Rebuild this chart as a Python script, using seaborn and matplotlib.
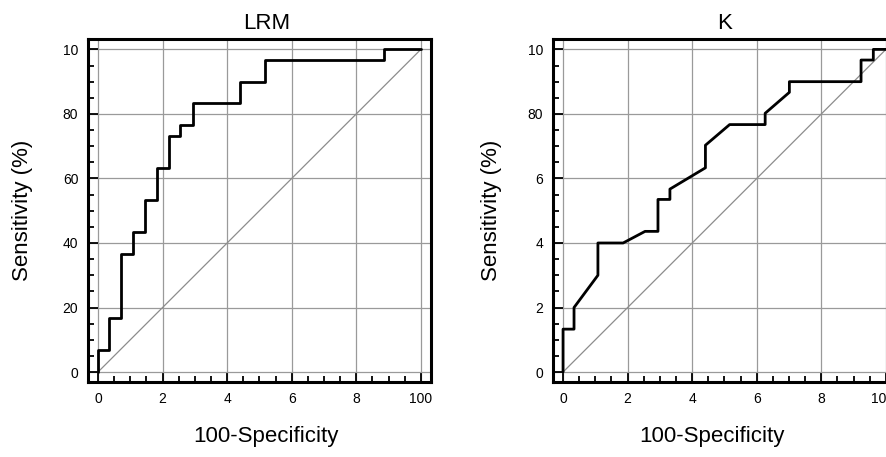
from matplotlib import pyplot as plt
from matplotlib.ticker import MultipleLocator
import pandas as pd
import seaborn as sns

# ROC curve vertices (100-specificity, sensitivity)
lrm_fpr = [0, 0, 3.3, 3.3, 7.2, 7.2, 10.9, 10.9, 14.7, 14.7, 18.3, 18.3, 21.9, 21.9,
           25.5, 25.5, 29.5, 29.5, 43.9, 43.9, 51.7, 51.7, 88.7, 88.7, 100]
lrm_tpr = [0, 6.7, 6.7, 16.7, 16.7, 36.7, 36.7, 43.3, 43.3, 53.3, 53.3, 63.3, 63.3, 73.3,
           73.3, 76.7, 76.7, 83.3, 83.3, 90.0, 90.0, 96.7, 96.7, 100, 100]

k_fpr = [0, 0, 3.4, 3.4, 10.8, 10.8, 18.6, 25.4, 29.4, 29.4, 33.1, 33.1, 44.1, 44.1,
         51.6, 62.6, 62.6, 70.1, 70.1, 92.3, 92.3, 96.1, 96.1, 100]
k_tpr = [0, 13.3, 13.3, 20.0, 30.0, 40.0, 40.0, 43.6, 43.6, 53.5, 53.5, 56.7, 63.3, 70.3,
         76.7, 76.7, 80.2, 86.7, 90.0, 90.0, 96.7, 96.7, 100, 100]

major_ticks = [0, 20, 40, 60, 80, 100]
lrm_xlabels = ["0", "2", "4", "6", "8", "100"]
lrm_ylabels = ["0", "20", "40", "60", "80", "10"]
k_xlabels = ["0", "2", "4", "6", "8", "10"]
k_ylabels = ["0", "2", "4", "6", "80", "10"]

sns.set_style("white")
plt.rcParams['font.family'] = ['Liberation Sans', 'DejaVu Sans']
plt.rcParams['text.color'] = 'black'
plt.rcParams['axes.labelcolor'] = 'black'
plt.rcParams['xtick.color'] = 'black'
plt.rcParams['ytick.color'] = 'black'

fig = plt.figure(figsize=(8.86, 4.57), dpi=100)
panels = [
    # title, x, y, xlabels, ylabels, axes rect, title x, xlabel x, ylabel x
    ("LRM", lrm_fpr, lrm_tpr, lrm_xlabels, lrm_ylabels, [0.0993, 0.164, 0.387, 0.7505], 0.52, 0.52, -0.16),
    ("K", k_fpr, k_tpr, k_xlabels, k_ylabels, [0.6242, 0.164, 0.387, 0.7505], 0.5, 0.463, -0.15),
]

for title, xs, ys, xlab, ylab, rect, tx, lx, ly in panels:
    ax = fig.add_axes(rect)
    df = pd.DataFrame({"fpr": xs, "tpr": ys})

    ax.plot([0, 100], [0, 100], color="#8c8c8c", lw=0.9, zorder=2)  # chance line
    sns.lineplot(data=df, x="fpr", y="tpr", sort=False, estimator=None,
                 color="black", lw=2.0, ax=ax, zorder=3)

    ax.set_xlim(-3.1, 103.1)
    ax.set_ylim(-3.1, 103.2)
    ax.set_xticks(major_ticks)
    ax.set_yticks(major_ticks)
    ax.set_xticklabels(xlab)
    ax.set_yticklabels(ylab)
    ax.xaxis.set_minor_locator(MultipleLocator(5))
    ax.yaxis.set_minor_locator(MultipleLocator(5))
    ax.tick_params(which="both", direction="in", top=False, right=False,
                   bottom=True, left=True, color="black", labelsize=10)
    ax.tick_params(which="major", length=7, width=1.3, pad=7)
    ax.tick_params(which="minor", length=4, width=1.3)
    ax.grid(True, which="major", color="#9a9a9a", lw=0.9)

    for sp in ax.spines.values():
        sp.set_visible(True)
        sp.set_color("black")
        sp.set_linewidth(2.2)

    if title == "K":  # last label sits on the right edge of the picture
        ax.get_xticklabels()[-1].set_horizontalalignment("right")

    ax.set_title(title, fontsize=16, pad=7, x=tx)
    ax.set_xlabel("100-Specificity", fontsize=16)
    ax.set_ylabel("Sensitivity (%)", fontsize=16)
    ax.xaxis.set_label_coords(lx, -0.128)
    ax.yaxis.set_label_coords(ly, 0.5)

plt.savefig("out.png", dpi=100)
